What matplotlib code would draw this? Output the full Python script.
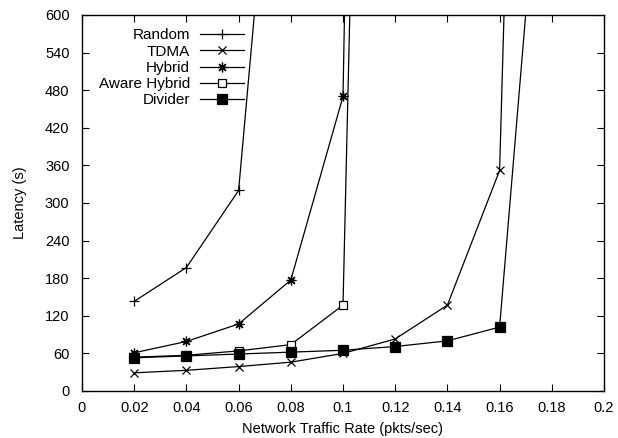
import matplotlib
matplotlib.use("Agg")
import matplotlib.pyplot as plt
from matplotlib.ticker import FixedLocator, FixedFormatter

plt.rcParams['font.family'] = ['Liberation Sans', 'DejaVu Sans']

# Data
random_x = [0.02, 0.04, 0.06, 0.08]
random_y = [143, 197, 320, 1250]
tdma_x = [0.02, 0.04, 0.06, 0.08, 0.10, 0.12, 0.14, 0.16, 0.18]
tdma_y = [29, 33, 39, 46, 60, 83, 137, 352, 3300]
hybrid_x = [0.02, 0.04, 0.06, 0.08, 0.10, 0.12]
hybrid_y = [61, 79, 107, 177, 470, 5000]
aware_x = [0.02, 0.04, 0.06, 0.08, 0.10, 0.12]
aware_y = [54, 57, 64, 74, 137, 3700]
divider_x = [0.02, 0.04, 0.06, 0.08, 0.10, 0.12, 0.14, 0.16, 0.18]
divider_y = [53, 56, 59, 62, 65, 71, 80, 102, 1100]

xticks = [0, 0.02, 0.04, 0.06, 0.08, 0.1, 0.12, 0.14, 0.16, 0.18, 0.2]
xtick_labels = ["0", "0.02", "0.04", "0.06", "0.08", "0.1", "0.12", "0.14", "0.16", "0.18", "0.2"]
yticks = [0, 60, 120, 180, 240, 300, 360, 420, 480, 540, 600]

fs = 10.5
fig = plt.figure(figsize=(6.18, 4.38), dpi=100)
ax = fig.add_axes([82/618, 1 - 391/438, (604-82)/618, (391-15)/438])

lw = 0.9
ax.plot(random_x, random_y, color='black', lw=lw, marker='+', ms=7, mew=0.9, label='Random')
ax.plot(tdma_x, tdma_y, color='black', lw=lw, marker='x', ms=6, mew=0.9, label='TDMA')
ax.plot(hybrid_x, hybrid_y, color='black', lw=lw, marker=(8, 2, 0), ms=7, mew=0.9, label='Hybrid')
ax.plot(aware_x, aware_y, color='black', lw=lw, marker='s', ms=6, mew=0.9,
        markerfacecolor='white', label='Aware Hybrid')
ax.plot(divider_x, divider_y, color='black', lw=lw, marker='s', ms=7, mew=0.9,
        markerfacecolor='black', label='Divider')

ax.set_xlim(0, 0.2)
ax.set_ylim(0, 600)
ax.xaxis.set_major_locator(FixedLocator(xticks))
ax.xaxis.set_major_formatter(FixedFormatter(xtick_labels))
ax.yaxis.set_major_locator(FixedLocator(yticks))
ax.tick_params(direction='in', length=5, width=0.8, top=True, right=True,
               labelsize=fs, pad=7, colors='black')
ax.tick_params(axis='y', pad=9)
for s in ax.spines.values():
    s.set_linewidth(1.0)

ax.set_xlabel('Network Traffic Rate (pkts/sec)', fontsize=fs, labelpad=5)
ax.set_ylabel('Latency (s)', fontsize=fs, labelpad=13)

leg = ax.legend(loc='upper left', bbox_to_anchor=(0.012, 0.993), frameon=False,
                markerfirst=False, fontsize=11, handlelength=2.9,
                handletextpad=0.65, labelspacing=0.15, borderaxespad=0.3)

fig.savefig('out.png', dpi=100)
